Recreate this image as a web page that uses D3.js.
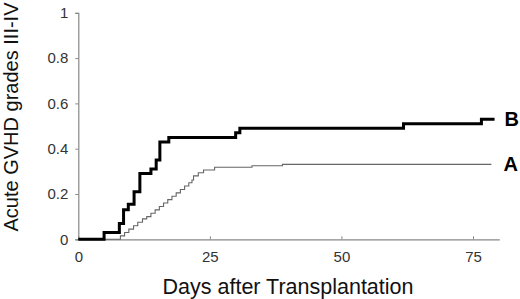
<!DOCTYPE html>
<html>
<head>
<meta charset="utf-8">
<script src="https://cdn.jsdelivr.net/npm/d3@7"></script>
<style>
  body { margin: 0; background: #fff; }
  text { font-family: "Liberation Sans", Arial, sans-serif; }
</style>
</head>
<body>
<div id="chart"></div>
<script>
// step data: [day, cumulative incidence]
const groupA = [
  [0, 0], [8, 0.015], [8.8, 0.03], [9.6, 0.045], [10.5, 0.06], [11.3, 0.075],
  [12.2, 0.09], [13, 0.1], [13.8, 0.115], [14.6, 0.13], [15.4, 0.145],
  [16.2, 0.16], [17, 0.175], [17.8, 0.19], [18.6, 0.205], [19.4, 0.22],
  [20.2, 0.235], [21, 0.25], [21.6, 0.262], [21.9, 0.28], [22.8, 0.294],
  [23.8, 0.306], [25.9, 0.318], [33, 0.325], [38.8, 0.331], [78.5, 0.331]
];
const groupB = [
  [0, 0], [4.9, 0.03], [7.8, 0.07], [8.6, 0.13], [9.5, 0.155], [10.6, 0.21],
  [11.7, 0.29], [13.8, 0.31], [14.8, 0.35], [15.5, 0.43], [17.2, 0.45],
  [29.9, 0.47], [30.7, 0.49], [61.8, 0.51], [76.6, 0.53], [79.1, 0.53]
];
const xTicks = [0, 25, 50, 75];
const yTicks = [0, 0.2, 0.4, 0.6, 0.8, 1];

const width = 520, height = 299;
const svg = d3.select("#chart").append("svg")
  .attr("width", width)
  .attr("height", height);

const x = d3.scaleLinear().domain([0, 80]).range([78.3, 499.3]);
const y = d3.scaleLinear().domain([0, 1]).range([239.3, 12.8]);

// y axis
const yAxis = svg.append("g")
  .attr("transform", `translate(${x(0)},0)`)
  .call(d3.axisLeft(y).tickValues(yTicks).tickSize(3).tickPadding(7)
    .tickFormat(d => d3.format("")(d)));
yAxis.select(".domain").attr("stroke", "#888").attr("stroke-width", 1.2);
yAxis.selectAll(".tick line").attr("stroke", "#888");
yAxis.selectAll("text").attr("font-size", 15).attr("fill", "#333");

// x axis
const xAxis = svg.append("g")
  .attr("transform", `translate(0,${y(0)})`)
  .call(d3.axisBottom(x).tickValues(xTicks).tickSize(-3).tickPadding(12).tickSizeOuter(0));
xAxis.select(".domain").attr("stroke", "#888").attr("stroke-width", 1.2);
xAxis.selectAll(".tick line").attr("stroke", "#888");
xAxis.selectAll("text").attr("font-size", 15).attr("fill", "#333");

// curves
const line = d3.line()
  .x(d => x(d[0]))
  .y(d => y(d[1]))
  .curve(d3.curveStepAfter);

svg.append("path")
  .datum(groupA)
  .attr("fill", "none")
  .attr("stroke", "#666")
  .attr("stroke-width", 1.1)
  .attr("d", line);

svg.append("path")
  .datum(groupB)
  .attr("fill", "none")
  .attr("stroke", "#000")
  .attr("stroke-width", 3)
  .attr("d", line);

// curve labels
svg.append("text")
  .attr("x", x(groupB[groupB.length - 1][0]) + 10)
  .attr("y", y(0.53) + 7)
  .attr("font-size", 20)
  .attr("font-weight", "bold")
  .text("B");

svg.append("text")
  .attr("x", x(groupA[groupA.length - 1][0]) + 12)
  .attr("y", y(0.331) + 7)
  .attr("font-size", 20)
  .attr("font-weight", "bold")
  .text("A");

// axis titles
svg.append("text")
  .attr("x", 288)
  .attr("y", 294)
  .attr("text-anchor", "middle")
  .attr("font-size", 21.5)
  .attr("fill", "#111")
  .text("Days after Transplantation");

svg.append("text")
  .attr("transform", "translate(18,117) rotate(-90)")
  .attr("text-anchor", "middle")
  .attr("font-size", 20)
  .attr("fill", "#111")
  .text("Acute GVHD grades III-IV");
</script>
</body>
</html>
